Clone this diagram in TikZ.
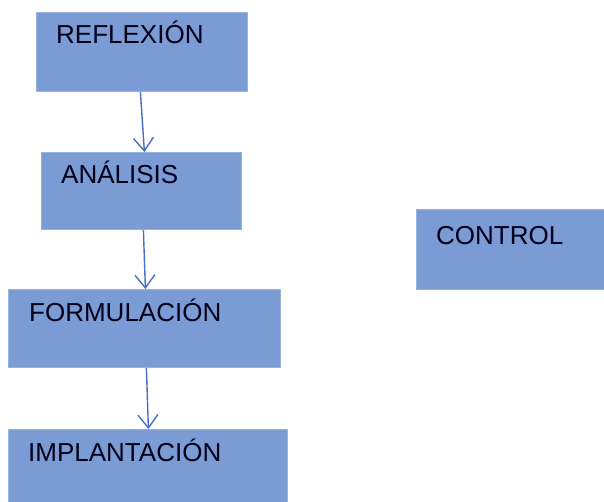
\documentclass[tikz,border=0pt]{standalone}
\usepackage{fontspec}
\setmainfont{Liberation Sans}
\usetikzlibrary{arrows.meta}
\definecolor{boxfill}{RGB}{122,155,212}
\definecolor{boxedge}{RGB}{150,178,224}
\definecolor{arrowblue}{RGB}{72,112,200}
\begin{document}
\begin{tikzpicture}[x=1pt,y=-1pt,
  stage/.style={fill=boxfill,draw=boxedge,line width=0.8pt,anchor=north west,inner sep=0pt},
  label/.style={anchor=base west,inner sep=0pt,font=\fontsize{26}{29}\selectfont,text=black!90!blue},
  flow/.style={draw=arrowblue,line width=1.4pt,-{Straight Barb[length=13pt,width=20pt,line width=1.4pt]}}]
\useasboundingbox (0,0) rectangle (604,502);
% stages
\node (refl) [stage,minimum width=211pt,minimum height=79pt] at (36,12) {};
\node (anal) [stage,minimum width=200pt,minimum height=77pt] at (41,152) {};
\node (form) [stage,minimum width=272pt,minimum height=78pt] at (8,289) {};
\node (impl) [stage,minimum width=279pt,minimum height=78pt] at (8,429) {};
\node (ctrl) [stage,minimum width=190pt,minimum height=80pt] at (416,209) {};
% texts
\node (trefl) [label] at (56,44) {REFLEXIÓN};
\node (tanal) [label] at (61,184) {ANÁLISIS};
\node (tform) [label] at (29,321) {FORMULACIÓN};
\node (timpl) [label] at (28,461) {IMPLANTACIÓN};
\node (tctrl) [label] at (436,245) {CONTROL};
% connectors
\draw[flow] ([xshift=-1.5pt]refl.south) -- ([xshift=3pt]anal.north);
\draw[flow] ([xshift=2pt]anal.south) -- ([xshift=1pt]form.north);
\draw[flow] ([xshift=2pt]form.south) -- ([xshift=0.5pt]impl.north);
\end{tikzpicture}
\end{document}
